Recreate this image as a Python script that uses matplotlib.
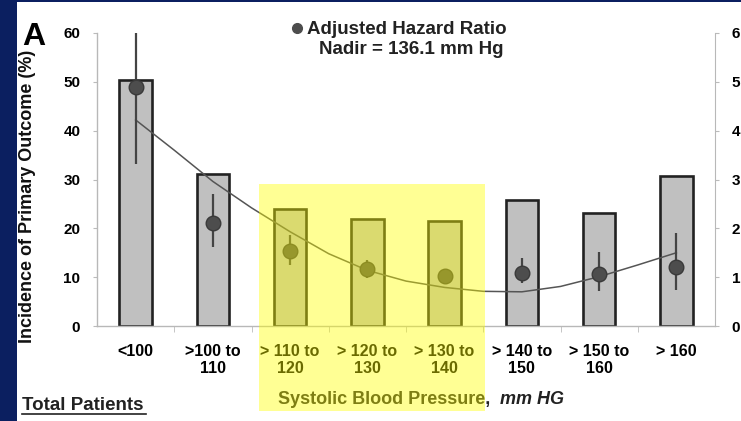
import matplotlib
matplotlib.use("Agg")
import matplotlib.pyplot as plt
from matplotlib.patches import Rectangle
from matplotlib.lines import Line2D
import numpy as np

plt.rcParams['font.family'] = ['Liberation Sans', 'DejaVu Sans']
plt.rcParams['font.weight'] = 'bold'

categories = ["<100", ">100 to\n110", "> 110 to\n120", "> 120 to\n130", "> 130 to\n140",
              "> 140 to\n150", "> 150 to\n160", "> 160"]
incidence = [50.3, 31.1, 24.0, 22.0, 21.6, 25.7, 23.2, 30.7]
hazard_ratio = [4.89, 2.10, 1.54, 1.16, 1.03, 1.08, 1.06, 1.20]
hr_low = [3.32, 1.62, 1.25, 0.98, 0.96, 0.88, 0.72, 0.74]
hr_high = [6.00, 2.70, 1.86, 1.36, 1.10, 1.39, 1.52, 1.91]
curve_pos = [0, 0.5, 1, 1.5, 2, 2.5, 3, 3.5, 4, 4.5, 5, 5.5, 6, 6.5, 7]
curve_hr = [4.22, 3.60, 2.96, 2.42, 1.93, 1.48, 1.14, 0.92, 0.79, 0.71, 0.70, 0.81, 1.01, 1.25, 1.50]
left_ticks = [0, 10, 20, 30, 40, 50, 60]
right_ticks = [0, 1, 2, 3, 4, 5, 6]

W, H = 741, 421
NAVY = '#0b1f60'
fig = plt.figure(figsize=(W / 100, H / 100), dpi=100, facecolor=NAVY)

def fx(px):
    return px / W

def fy(py):
    return 1 - py / H

# white panel
fig.add_artist(Rectangle((fx(17), 0), fx(W - 17), fy(2), transform=fig.transFigure,
                         facecolor='white', edgecolor='none', zorder=-5))

ax = fig.add_axes([fx(97), fy(326), fx(715 - 97), fy(33) - fy(326)])
ax.set_facecolor('none')
x = np.arange(len(categories))
ax.bar(x, incidence, width=0.42, color='#c0c0c0', edgecolor='#222222', linewidth=1.9, zorder=2)
ax.set_xlim(-0.5, len(categories) - 0.5)
ax.set_ylim(0, 60)
ax.set_yticks(left_ticks)
ax.set_yticklabels([str(t) for t in left_ticks], fontsize=11, fontweight='bold')
ax.set_xticks(x)
ax.set_xticklabels(categories, fontsize=11.5, fontweight='bold', linespacing=1.2)
ax.set_xticks(np.arange(0.5, len(categories) - 1, 1), minor=True)
ax.tick_params(axis='x', which='major', length=0, pad=13)
ax.tick_params(axis='x', which='minor', length=4, color='#bbbbbb')
ax.tick_params(axis='y', length=3, color='#bbbbbb', pad=9)
for s in ['top', 'right']:
    ax.spines[s].set_visible(False)
for s in ['left', 'bottom']:
    ax.spines[s].set_color('#b8b8b8')
    ax.spines[s].set_linewidth(1)

ax2 = ax.twinx()
ax2.set_ylim(0, 6)
ax2.set_yticks(right_ticks)
ax2.set_yticklabels([str(t) for t in right_ticks], fontsize=11, fontweight='bold')
ax2.tick_params(axis='y', length=3, color='#bbbbbb', pad=9)
for s in ['top', 'left', 'bottom']:
    ax2.spines[s].set_visible(False)
ax2.spines['right'].set_color('#b8b8b8')
ax2.plot(curve_pos, curve_hr, color='#555555', linewidth=1.1, zorder=3)
hr = np.array(hazard_ratio)
yerr = [hr - np.array(hr_low), np.array(hr_high) - hr]
ax2.errorbar(x, hr, yerr=yerr, fmt='o', ms=10.5, color='#4d4d4d', mec='#3a3a3a',
             ecolor='#444444', elinewidth=1.6, capsize=0, zorder=4)

# panel letter
fig.text(fx(34), fy(45), 'A', fontsize=23, fontweight='bold', ha='center', va='baseline', color='black')

# y label
fig.text(fx(28), fy(196), 'Incidence of Primary Outcome (%)', rotation=90, fontsize=13,
         fontweight='bold', ha='center', va='center', color='#111111')

# legend
fig.add_artist(Line2D([fx(297)], [fy(28)], marker='o', ms=7, color='#4d4d4d',
                      transform=fig.transFigure, linestyle='none'))
fig.text(fx(307), fy(29), 'Adjusted Hazard Ratio', fontsize=13.5, fontweight='bold',
         ha='left', va='center', color='#222222')
fig.text(fx(411), fy(49), 'Nadir = 136.1 mm Hg', fontsize=13.5, fontweight='bold',
         ha='center', va='center', color='#222222')

# x label
fig.text(fx(490), fy(400), 'Systolic Blood Pressure,', fontsize=13, fontweight='bold',
         ha='right', va='center', color='#222222')
fig.text(fx(500), fy(400), 'mm HG', fontsize=13, fontweight='bold', style='italic',
         ha='left', va='center', color='#222222')

# Total patients
fig.text(fx(22), fy(406), 'Total Patients', fontsize=13.5, fontweight='bold',
         ha='left', va='center', color='#222222')
fig.add_artist(Line2D([fx(22), fx(146)], [fy(414), fy(414)], color='#222222', lw=1.2,
                      transform=fig.transFigure))

# yellow highlight
fig.add_artist(Rectangle((fx(259), fy(411)), fx(485 - 259), fy(184) - fy(411),
                         transform=fig.transFigure, facecolor='#ffff00', alpha=0.42,
                         edgecolor='none', zorder=20))

fig.savefig('out.png', dpi=100, facecolor=NAVY)
